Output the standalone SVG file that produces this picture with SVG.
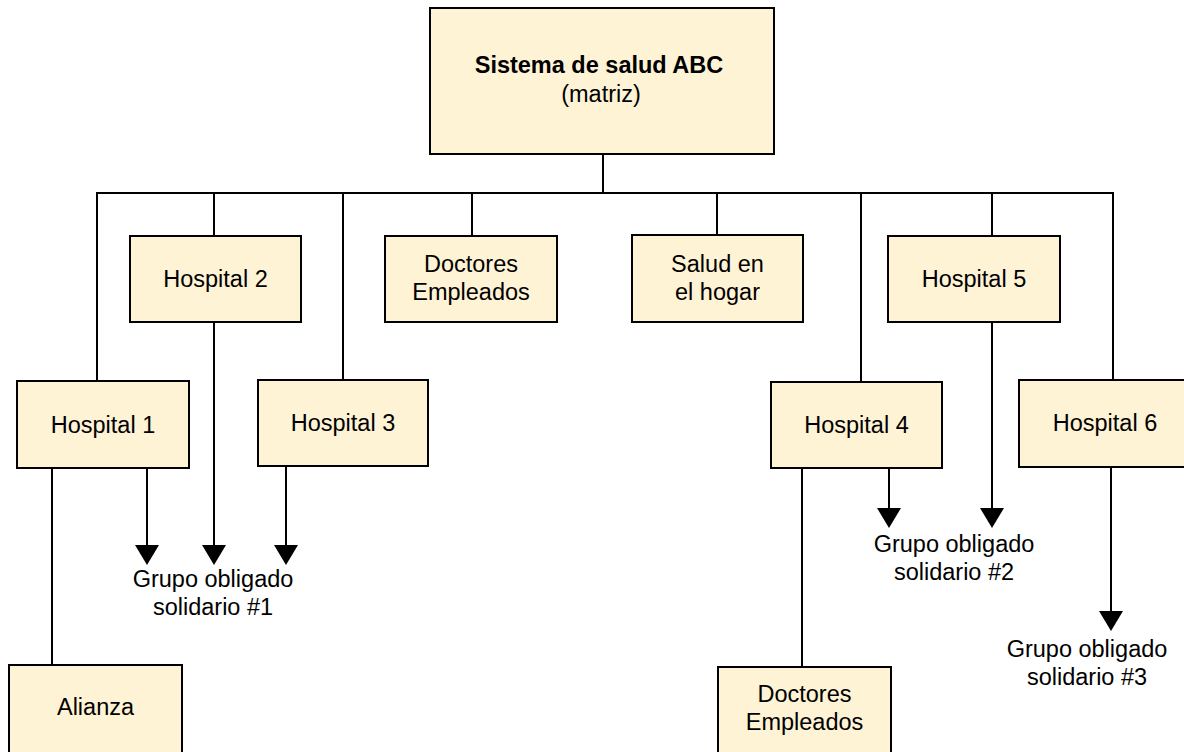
<svg xmlns="http://www.w3.org/2000/svg" width="1184" height="752" viewBox="0 0 1184 752">
<style>
.box{fill:#FFF3D6;stroke:#000;stroke-width:2}
.t{font-family:"Liberation Sans",Arial,sans-serif;font-size:23.5px;fill:#000;text-anchor:middle}
.b{font-weight:bold}
.c{stroke:#000;stroke-width:2;fill:none}
</style>
<defs>
<marker id="ah" viewBox="0 0 20 24" refX="10" refY="12" markerWidth="20" markerHeight="24" markerUnits="userSpaceOnUse" orient="auto">
<path d="M0,0 L20,12 L0,24 z" fill="#000"/>
</marker>
</defs>
<rect width="1184" height="752" fill="#fff"/>
<g id="connectors">
<line class="c" x1="603" y1="154" x2="603" y2="193"/>
<line class="c" x1="96" y1="193" x2="1114" y2="193"/>
<line class="c" x1="97" y1="193" x2="97" y2="381"/>
<line class="c" x1="214" y1="193" x2="214" y2="236"/>
<line class="c" x1="343" y1="193" x2="343" y2="380"/>
<line class="c" x1="472" y1="193" x2="472" y2="236"/>
<line class="c" x1="717" y1="193" x2="717" y2="235"/>
<line class="c" x1="861" y1="193" x2="861" y2="382"/>
<line class="c" x1="992" y1="193" x2="992" y2="236"/>
<line class="c" x1="1113" y1="193" x2="1113" y2="380"/>
<line class="c" x1="52" y1="468" x2="52" y2="665"/>
<line class="c" x1="802" y1="468" x2="802" y2="667"/>
<line class="c" x1="147" y1="468" x2="147" y2="555" marker-end="url(#ah)"/>
<line class="c" x1="214" y1="322" x2="214" y2="555" marker-end="url(#ah)"/>
<line class="c" x1="286" y1="466" x2="286" y2="555" marker-end="url(#ah)"/>
<line class="c" x1="889" y1="468" x2="889" y2="518" marker-end="url(#ah)"/>
<line class="c" x1="992" y1="322" x2="992" y2="518" marker-end="url(#ah)"/>
<line class="c" x1="1111" y1="467" x2="1111" y2="621" marker-end="url(#ah)"/>
</g>
<g id="n-root"><rect class="box" x="430" y="8" width="344" height="146"/>
<text class="t b" x="599" y="73">Sistema de salud ABC</text>
<text class="t" x="601" y="102">(matriz)</text></g>
<g id="n-h2"><rect class="box" x="130" y="236" width="171" height="86"/>
<text class="t" x="215.5" y="287">Hospital 2</text></g>
<g id="n-doc1"><rect class="box" x="385" y="236" width="172" height="86"/>
<text class="t" x="471" y="272">Doctores</text>
<text class="t" x="471" y="300">Empleados</text></g>
<g id="n-salud"><rect class="box" x="632" y="235" width="171" height="87"/>
<text class="t" x="717.5" y="272">Salud en</text>
<text class="t" x="717.5" y="300">el hogar</text></g>
<g id="n-h5"><rect class="box" x="888" y="236" width="172" height="86"/>
<text class="t" x="974" y="287">Hospital 5</text></g>
<g id="n-h1"><rect class="box" x="17" y="381" width="172" height="87"/>
<text class="t" x="103" y="433">Hospital 1</text></g>
<g id="n-h3"><rect class="box" x="258" y="380" width="170" height="86"/>
<text class="t" x="343" y="431">Hospital 3</text></g>
<g id="n-h4"><rect class="box" x="771" y="382" width="171" height="86"/>
<text class="t" x="856.5" y="433">Hospital 4</text></g>
<g id="n-h6"><rect class="box" x="1019" y="380" width="172" height="87"/>
<text class="t" x="1105" y="431">Hospital 6</text></g>
<g id="n-alianza"><rect class="box" x="9" y="665" width="173" height="100"/>
<text class="t" x="95.5" y="715">Alianza</text></g>
<g id="n-doc2"><rect class="box" x="718" y="667" width="173" height="100"/>
<text class="t" x="804.5" y="702">Doctores</text>
<text class="t" x="804.5" y="730">Empleados</text></g>
<g id="n-g1"><text class="t" x="213" y="587">Grupo obligado</text>
<text class="t" x="213" y="615">solidario #1</text></g>
<g id="n-g2"><text class="t" x="954" y="552">Grupo obligado</text>
<text class="t" x="954" y="580">solidario #2</text></g>
<g id="n-g3"><text class="t" x="1087" y="657">Grupo obligado</text>
<text class="t" x="1087" y="685">solidario #3</text></g>
</svg>
